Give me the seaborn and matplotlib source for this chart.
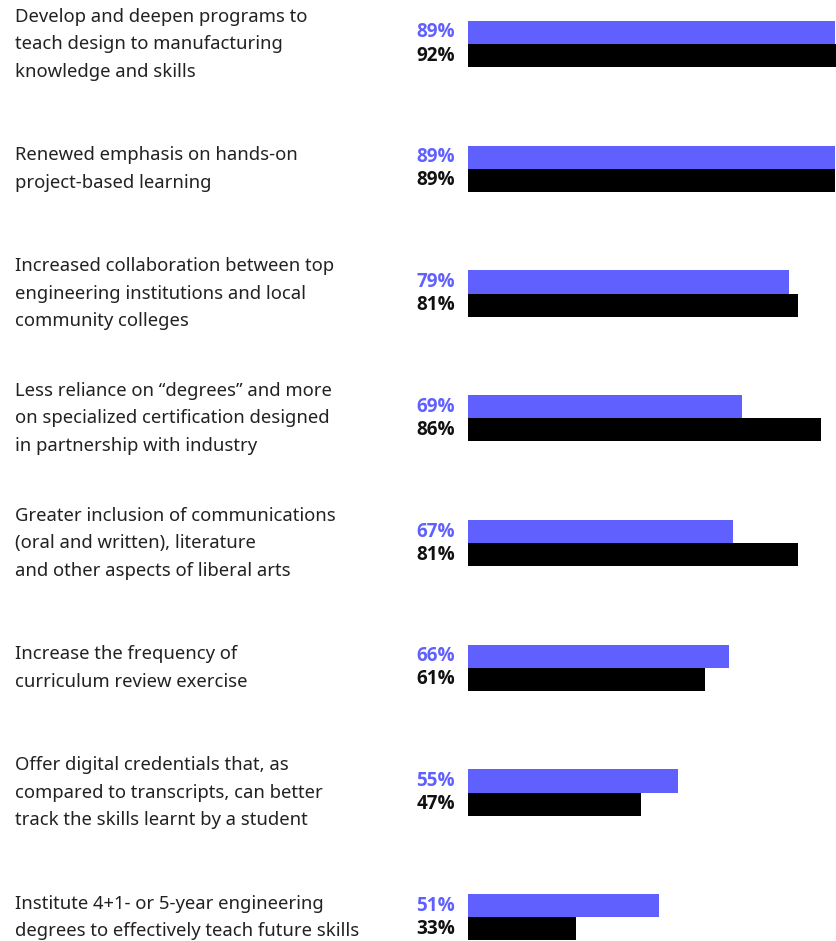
import matplotlib
matplotlib.use("Agg")
import matplotlib.pyplot as plt
import matplotlib.transforms as mtransforms
import pandas as pd
import seaborn as sns

statements = [
    "Develop and deepen programs to\nteach design to manufacturing\nknowledge and skills",
    "Renewed emphasis on hands-on\nproject-based learning",
    "Increased collaboration between top\nengineering institutions and local\ncommunity colleges",
    "Less reliance on \u201cdegrees\u201d and more\non specialized certification designed\nin partnership with industry",
    "Greater inclusion of communications\n(oral and written), literature\nand other aspects of liberal arts",
    "Increase the frequency of\ncurriculum review exercise",
    "Offer digital credentials that, as\ncompared to transcripts, can better\ntrack the skills learnt by a student",
    "Institute 4+1- or 5-year engineering\ndegrees to effectively teach future skills",
]
series_names = ["Group A", "Group B"]
values_a = [89, 89, 79, 69, 67, 66, 55, 51]
values_b = [92, 89, 81, 86, 81, 61, 47, 33]

BLUE = "#6060ff"
BLACK = "#000000"

sns.set_theme(style="white")
plt.rcParams["font.family"] = ["Noto Sans", "DejaVu Sans"]

df = pd.DataFrame({
    "statement": statements * 2,
    "series": [series_names[0]] * len(statements) + [series_names[1]] * len(statements),
    "value": values_a + values_b,
})

fig = plt.figure(figsize=(8.36, 9.41), dpi=100)
ax = fig.add_axes([468 / 836, 0.0, 1 - 468 / 836, 1.0])

sns.barplot(
    data=df, y="statement", x="value", hue="series",
    order=statements, hue_order=series_names,
    palette=[BLUE, BLACK], width=0.37, orient="h",
    saturation=1, legend=False, ax=ax, linewidth=0,
)

ax.set_xlim(9.6, 89.25)
ax.set_ylim(7.19, -0.353)
ax.set_xlabel("")
ax.set_ylabel("")
ax.set_xticks([])
ax.set_yticks([])
for s in ax.spines.values():
    s.set_visible(False)

# statement labels at the left edge of the figure, centred on each group
label_tf = mtransforms.blended_transform_factory(fig.transFigure, ax.transData)
for i, text in enumerate(statements):
    fig.text(15 / 836, i, text, transform=label_tf, ha="left", va="center",
             fontsize=13.3, color="#222222", linespacing=1.68)

# value labels just left of the bars
val_tf = mtransforms.blended_transform_factory(ax.transAxes, ax.transData)
half = 0.37 / 4
value_font = dict(family=["Open Sans", "Roboto", "DejaVu Sans"], size=13.6, weight="bold")
for i in range(len(statements)):
    ax.annotate(f"{values_a[i]}%", xy=(0, i - half), xycoords=val_tf,
                xytext=(-9.4, 0), textcoords="offset points",
                ha="right", va="center", fontproperties=value_font,
                color=BLUE, annotation_clip=False)
    ax.annotate(f"{values_b[i]}%", xy=(0, i + half), xycoords=val_tf,
                xytext=(-9.4, 0), textcoords="offset points",
                ha="right", va="center", fontproperties=value_font,
                color="#111111", annotation_clip=False)

fig.savefig("out.png", dpi=100)
